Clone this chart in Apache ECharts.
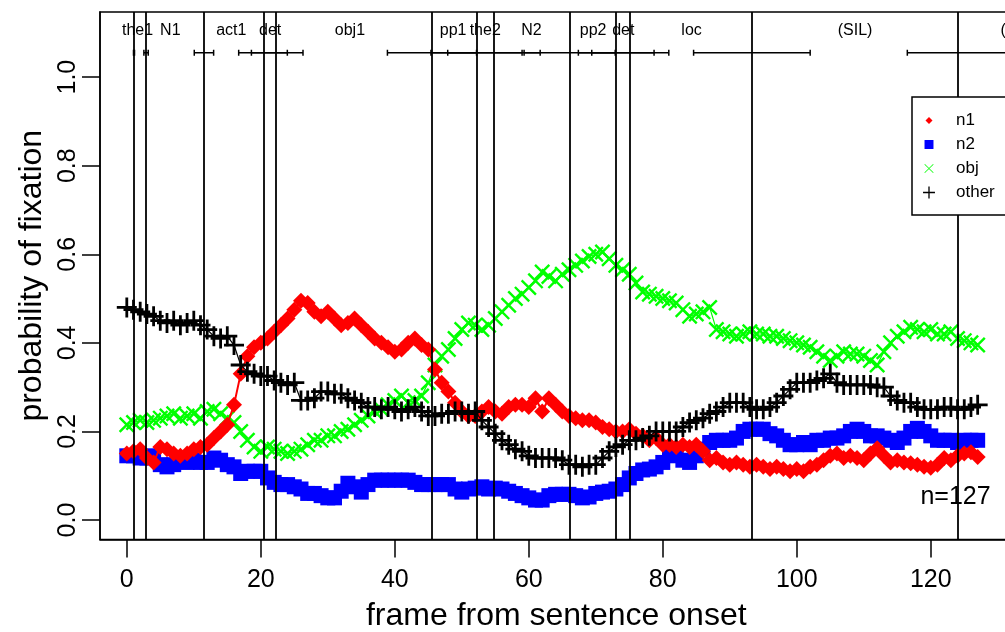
<!DOCTYPE html>
<html>
<head>
<meta charset="utf-8">
<script src="https://cdn.jsdelivr.net/npm/echarts@6/dist/echarts.min.js"></script>
<style>
html, body { margin: 0; padding: 0; background: #fff; }
#chart { width: 1005px; height: 632px; }
</style>
</head>
<body>
<div id="chart"></div>
<script>
// fixation probabilities per frame (frame 0..127)
var n1 = [0.15,0.155,0.16,0.14,0.13,0.165,0.16,0.15,0.145,0.15,
	0.16,0.165,0.17,0.185,0.2,0.215,0.26,0.33,0.37,0.39,
	0.4,0.41,0.425,0.44,0.455,0.475,0.495,0.49,0.47,0.46,
	0.47,0.455,0.44,0.445,0.455,0.44,0.425,0.41,0.4,0.39,
	0.38,0.385,0.4,0.41,0.395,0.385,0.34,0.31,0.29,0.265,
	0.245,0.235,0.235,0.245,0.255,0.245,0.24,0.255,0.26,0.26,
	0.255,0.275,0.245,0.275,0.26,0.245,0.235,0.23,0.225,0.225,
	0.22,0.21,0.205,0.2,0.2,0.205,0.195,0.19,0.18,0.185,
	0.17,0.17,0.165,0.17,0.165,0.17,0.155,0.135,0.14,0.13,
	0.125,0.13,0.125,0.12,0.125,0.12,0.115,0.12,0.115,0.11,
	0.115,0.11,0.12,0.125,0.135,0.145,0.15,0.14,0.145,0.14,
	0.135,0.15,0.162,0.145,0.13,0.135,0.13,0.128,0.125,0.12,
	0.118,0.125,0.14,0.135,0.145,0.15,0.153,0.142];

var n2 = [0.145,0.145,0.14,0.14,0.145,0.125,0.12,0.125,0.135,0.13,
	0.135,0.13,0.13,0.14,0.135,0.125,0.12,0.105,0.11,0.11,
	0.11,0.095,0.085,0.08,0.08,0.075,0.07,0.06,0.06,0.055,
	0.05,0.05,0.065,0.083,0.075,0.063,0.08,0.09,0.09,0.09,
	0.09,0.09,0.09,0.085,0.08,0.08,0.08,0.08,0.08,0.07,
	0.063,0.07,0.072,0.075,0.07,0.072,0.07,0.065,0.06,0.055,
	0.05,0.045,0.045,0.055,0.058,0.058,0.058,0.055,0.05,0.052,
	0.06,0.063,0.065,0.07,0.08,0.095,0.105,0.113,0.115,0.12,
	0.13,0.145,0.15,0.135,0.13,0.145,0.16,0.175,0.18,0.18,
	0.18,0.185,0.2,0.205,0.205,0.205,0.195,0.19,0.18,0.17,
	0.17,0.175,0.17,0.18,0.18,0.185,0.185,0.19,0.2,0.205,
	0.2,0.19,0.19,0.185,0.18,0.175,0.185,0.2,0.207,0.2,
	0.19,0.18,0.18,0.18,0.175,0.18,0.18,0.18];

var obj = [0.215,0.22,0.225,0.22,0.225,0.23,0.235,0.24,0.23,0.235,
	0.24,0.23,0.245,0.25,0.24,0.23,0.22,0.2,0.18,0.165,
	0.155,0.165,0.16,0.155,0.15,0.155,0.16,0.17,0.18,0.18,
	0.19,0.19,0.2,0.205,0.215,0.225,0.235,0.245,0.25,0.26,
	0.27,0.28,0.265,0.27,0.28,0.31,0.35,0.37,0.385,0.41,
	0.43,0.445,0.44,0.43,0.44,0.455,0.47,0.485,0.5,0.51,
	0.525,0.54,0.56,0.55,0.54,0.555,0.565,0.575,0.585,0.595,
	0.6,0.605,0.59,0.575,0.565,0.555,0.535,0.515,0.51,0.505,
	0.5,0.495,0.49,0.475,0.46,0.465,0.47,0.48,0.43,0.425,
	0.42,0.415,0.42,0.425,0.42,0.42,0.415,0.415,0.41,0.405,
	0.4,0.395,0.39,0.38,0.37,0.36,0.37,0.38,0.375,0.375,
	0.37,0.36,0.35,0.38,0.4,0.415,0.425,0.435,0.43,0.425,
	0.43,0.42,0.42,0.425,0.41,0.405,0.4,0.395];

var other = [0.48,0.475,0.47,0.465,0.46,0.45,0.445,0.45,0.44,0.445,
	0.45,0.44,0.43,0.415,0.41,0.415,0.395,0.35,0.335,0.33,
	0.325,0.325,0.315,0.31,0.305,0.31,0.27,0.27,0.275,0.29,
	0.29,0.285,0.285,0.275,0.27,0.265,0.255,0.255,0.25,0.255,
	0.25,0.245,0.25,0.255,0.245,0.235,0.235,0.24,0.24,0.245,
	0.245,0.24,0.245,0.225,0.21,0.195,0.18,0.17,0.16,0.155,
	0.145,0.14,0.14,0.14,0.14,0.135,0.125,0.125,0.12,0.125,
	0.125,0.14,0.155,0.165,0.17,0.18,0.18,0.185,0.19,0.2,
	0.2,0.2,0.2,0.21,0.22,0.225,0.23,0.24,0.245,0.255,
	0.265,0.265,0.265,0.255,0.25,0.25,0.255,0.265,0.28,0.295,
	0.31,0.31,0.31,0.315,0.32,0.33,0.31,0.305,0.305,0.305,
	0.305,0.305,0.3,0.3,0.28,0.27,0.265,0.265,0.255,0.25,
	0.25,0.25,0.255,0.255,0.25,0.25,0.255,0.26];

// word onsets (vertical lines) and onset spread bars, in frames
var wordOnsets = [1.05, 2.85, 11.45, 20.4, 22.25, 45.5, 52.2, 54.8, 66.05, 72.95, 75.1, 93.3, 124.1];
var barStart = [1.0, 2.55, 10.07, 16.7, 18.6, 38.9, 45.4, 47.9, 59.3, 67.4, 69.4, 84.6, 116.5];
var barEnd = [1.15, 3.2, 12.96, 23.96, 26.3, 52.2, 59.0, 61.7, 72.9, 78.7, 80.9, 102.0, 131.7];
var barLevel = 1.055;

var wordLabels = ['the1', 'N1', 'act1', 'det', 'obj1', 'pp1', 'the2', 'N2', 'pp2', 'det', 'loc', '(SIL)', '(SIL)'];
var wordLabelX = [1.6, 6.5, 15.6, 21.4, 33.3, 48.7, 53.5, 60.4, 69.6, 74.1, 84.3, 108.7, 133.0];
var wordLabelLevel = 1.105;

var xTicks = [0, 20, 40, 60, 80, 100, 120];
var yTicks = [0, 0.2, 0.4, 0.6, 0.8, 1.0];

var FONT = 'Liberation Sans, Arial, Helvetica, sans-serif';
var CROSS = 'path://M1.2,-1.2L21.2,18.8L18.8,21.2L-1.2,1.2Z M21.2,1.2L1.2,21.2L-1.2,18.8L18.8,-1.2Z';
var PLUS = 'path://M8.6,0h2.8v8.6h8.6v2.8h-8.6v8.6h-2.8v-8.6h-8.6v-2.8h8.6z';

function toPairs(arr) {
	var out = [];
	for (var i = 0; i < arr.length; i++) {
		out.push([i, arr[i]]);
	}
	return out;
}

function getBarData() {
	var out = [];
	for (var i = 0; i < barStart.length; i++) {
		out.push([barStart[i], barEnd[i], barLevel]);
	}
	return out;
}

function getLabelData() {
	var out = [];
	for (var i = 0; i < wordLabelX.length; i++) {
		out.push([wordLabelX[i], wordLabelLevel]);
	}
	return out;
}

function renderBar(params, api) {
	var s = api.coord([api.value(0), api.value(2)]);
	var e = api.coord([api.value(1), api.value(2)]);
	var st = { stroke: '#000', lineWidth: 1.5 };
	return {
		type : 'group',
		children : [
			{ type : 'line', shape : { x1 : s[0], y1 : s[1], x2 : e[0], y2 : e[1] }, style : st },
			{ type : 'line', shape : { x1 : s[0], y1 : s[1] - 3, x2 : s[0], y2 : s[1] + 3 }, style : st },
			{ type : 'line', shape : { x1 : e[0], y1 : e[1] - 3, x2 : e[0], y2 : e[1] + 3 }, style : st }
		]
	};
}

function renderLabel(params, api) {
	var p = api.coord([api.value(0), api.value(1)]);
	return {
		type : 'text',
		style : {
			text : wordLabels[params.dataIndex],
			x : p[0],
			y : p[1],
			align : 'center',
			verticalAlign : 'middle',
			fontSize : 16,
			fontFamily : FONT,
			fill : '#000'
		}
	};
}

function renderNote(params, api) {
	var p = api.coord([api.value(0), api.value(1)]);
	return {
		type : 'text',
		style : {
			text : 'n=127',
			x : p[0],
			y : p[1],
			align : 'center',
			verticalAlign : 'middle',
			fontSize : 25,
			fontFamily : FONT,
			fill : '#000'
		}
	};
}

var myChart = echarts.init(document.getElementById('chart'), null, { renderer : 'canvas' });

var option = {
	animation : false,
	backgroundColor : '#fff',
	textStyle : { fontFamily : FONT },
	grid : {
		left : 100,
		top : 12,
		width : 912.5,
		height : 527.5,
		outerBoundsMode : 'none',
		containLabel : false,
		show : true,
		borderColor : '#000',
		borderWidth : 1.5,
		backgroundColor : 'transparent'
	},
	legend : {
		orient : 'vertical',
		left : 912,
		top : 97,
		z : 20,
		backgroundColor : '#fff',
		borderColor : '#000',
		borderWidth : 1.5,
		borderRadius : 0,
		padding : [ 15, 30, 14, 9 ],
		itemWidth : 24,
		itemHeight : 16,
		itemGap : 7,
		selectedMode : false,
		itemStyle : { borderWidth : 0 },
		textStyle : { fontSize : 17, color : '#000', fontFamily : FONT, padding : [ 0, 0, 0, 10 ] },
		data : [
			{ name : 'n1', icon : 'path://M0,0M20,20M10,5.6L14.4,10L10,14.4L5.6,10Z' },
			{ name : 'n2', icon : 'path://M0,0M20,20M4.4,4.4h11.2v11.2h-11.2z' },
			{ name : 'obj', icon : 'path://M-2,-2M22,22M3.9,3.1L16.9,16.1L16.1,16.9L3.1,3.9Z M16.9,3.9L3.9,16.9L3.1,16.1L16.1,3.1Z' },
			{ name : 'other', icon : 'path://M-1,-1M21,21M9.1,1.8h1.8v7.3h7.3v1.8h-7.3v7.3h-1.8v-7.3h-7.3v-1.8h7.3z' }
		]
	},
	xAxis : {
		type : 'value',
		min : -4,
		max : 132.2,
		name : 'frame from sentence onset',
		nameLocation : 'middle',
		nameGap : 61,
		nameTextStyle : { fontSize : 32, color : '#000', fontFamily : FONT },
		axisLine : { show : true, onZero : false, lineStyle : { color : '#000', width : 1.5 } },
		axisTick : { show : true, inside : false, length : 18, customValues : xTicks, lineStyle : { color : '#000', width : 1.5 } },
		axisLabel : { customValues : xTicks, fontSize : 25, color : '#000', margin : 28, fontFamily : FONT },
		splitLine : { show : false }
	},
	yAxis : {
		type : 'value',
		min : -0.044,
		max : 1.147,
		name : 'probability of fixation',
		nameLocation : 'middle',
		nameGap : 50,
		nameTextStyle : { fontSize : 32, color : '#000', fontFamily : FONT },
		axisLine : { show : true, onZero : false, lineStyle : { color : '#000', width : 1.5 } },
		axisTick : { show : true, inside : false, length : 18, customValues : yTicks, lineStyle : { color : '#000', width : 1.5 } },
		axisLabel : {
			customValues : yTicks,
			rotate : 90,
			fontSize : 25,
			color : '#000',
			margin : 19,
			fontFamily : FONT,
			formatter : function(v) { return v.toFixed(1); }
		},
		splitLine : { show : false }
	},
	series : [ {
		name : 'n2',
		type : 'line',
		z : 2,
		data : toPairs(n2),
		symbol : 'rect',
		symbolSize : 15,
		itemStyle : { color : '#0000ff' },
		lineStyle : { color : '#0000ff', width : 1.5 }
	}, {
		name : 'obj',
		type : 'line',
		z : 3,
		data : toPairs(obj),
		symbol : CROSS,
		symbolSize : 16,
		itemStyle : { color : '#00ff00' },
		lineStyle : { color : '#00ff00', width : 1.2 }
	}, {
		name : 'n1',
		type : 'line',
		z : 4,
		data : toPairs(n1),
		symbol : 'diamond',
		symbolSize : 16,
		itemStyle : { color : '#ff0000' },
		lineStyle : { color : '#ff0000', width : 2 }
	}, {
		name : 'other',
		type : 'line',
		z : 5,
		data : toPairs(other),
		symbol : PLUS,
		symbolSize : 20,
		itemStyle : { color : '#000' },
		lineStyle : { color : '#000', width : 1.2 }
	}, {
		name : 'words',
		type : 'custom',
		z : 6,
		silent : true,
		data : getBarData(),
		renderItem : renderBar,
		markLine : {
			silent : true,
			symbol : [ 'none', 'none' ],
			label : { show : false },
			lineStyle : { color : '#000', width : 1.8, type : 'solid' },
			data : wordOnsets.map(function(v) { return { xAxis : v }; })
		}
	}, {
		name : 'wordLabels',
		type : 'custom',
		z : 6,
		silent : true,
		clip : false,
		data : getLabelData(),
		renderItem : renderLabel
	}, {
		name : 'note',
		type : 'custom',
		z : 6,
		silent : true,
		data : [ [ 123.7, 0.052 ] ],
		renderItem : renderNote
	} ]
};

myChart.setOption(option);
</script>
</body>
</html>
